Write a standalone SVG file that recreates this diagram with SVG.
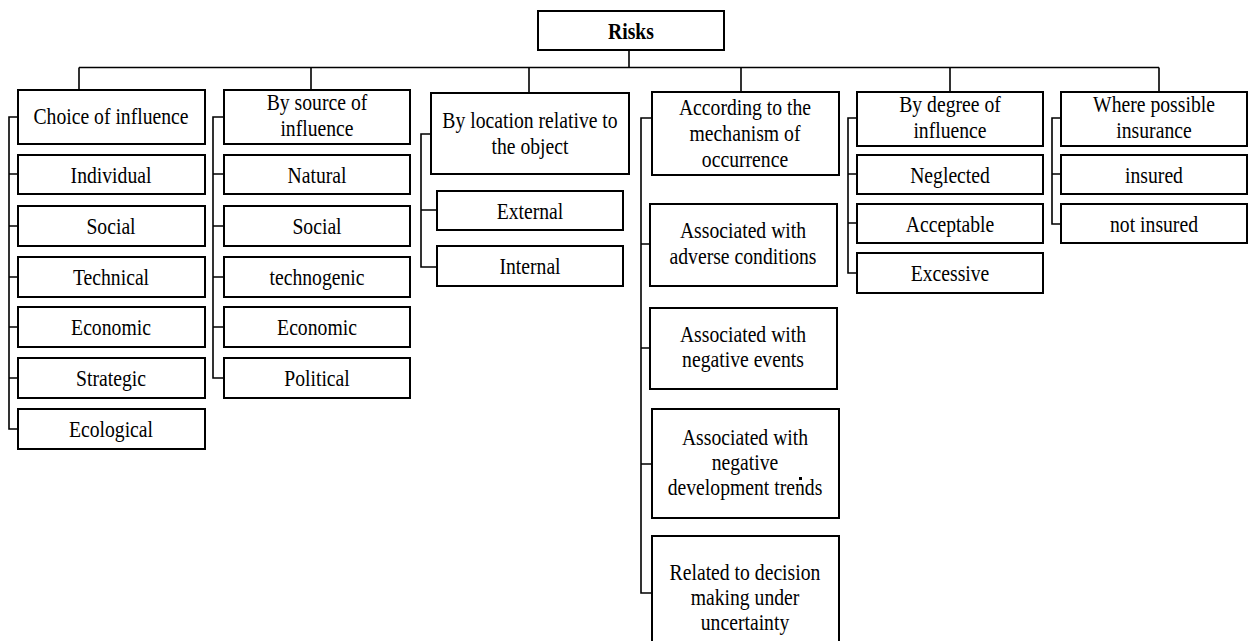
<svg xmlns="http://www.w3.org/2000/svg" width="1252" height="641" viewBox="0 0 1252 641">
<style>
  .box { fill: #fff; stroke: #000; stroke-width: 2; }
  .t { font-family: "Liberation Serif", "Times New Roman", serif; font-size: 24px; fill: #000; text-anchor: middle; }
  .b { font-weight: bold; }
  .con { fill: none; stroke: #000; stroke-width: 1.6; }
</style>
<rect width="1252" height="641" fill="#fff"/>

<g id="connectors" class="con">
  <path d="M629 50 V67.5 M79 67.5 H1159 M79 67.5 V90 M311 67.5 V90 M529 67.5 V93 M741 67.5 V92 M950 67.5 V92 M1159 67.5 V92"/>
  <path d="M18 117 H9 V429 H18 M9 174 H18 M9 226 H18 M9 277 H18 M9 327 H18 M9 378 H18"/>
  <path d="M224 117 H213 V378 H224 M213 174 H224 M213 226 H224 M213 277 H224 M213 327 H224"/>
  <path d="M431 134 H421 V267 H437 M421 210 H437"/>
  <path d="M652 118 H641 V593 H652 M641 244 H650 M641 348 H650 M641 464 H652"/>
  <path d="M857 118 H848 V273 H857 M848 174 H857 M848 223 H857"/>
  <path d="M1061 118 H1052 V224 H1061 M1052 174 H1061"/>
</g>

<g id="risks"><rect class="box" x="538" y="11" width="186" height="39"/><text class="t b" transform="translate(631,39) scale(0.82,1)">Risks</text></g>

<g id="choice"><rect class="box" x="18" y="90" width="187" height="54"/><text class="t" transform="translate(111,124) scale(0.82,1)">Choice of influence</text></g>
<g id="c1-individual"><rect class="box" x="18" y="155" width="187" height="39"/><text class="t" transform="translate(111,183) scale(0.82,1)">Individual</text></g>
<g id="c1-social"><rect class="box" x="18" y="206" width="187" height="40"/><text class="t" transform="translate(111,234) scale(0.82,1)">Social</text></g>
<g id="c1-technical"><rect class="box" x="18" y="257" width="187" height="40"/><text class="t" transform="translate(111,285) scale(0.82,1)">Technical</text></g>
<g id="c1-economic"><rect class="box" x="18" y="307" width="187" height="40"/><text class="t" transform="translate(111,335) scale(0.82,1)">Economic</text></g>
<g id="c1-strategic"><rect class="box" x="18" y="358" width="187" height="40"/><text class="t" transform="translate(111,386) scale(0.82,1)">Strategic</text></g>
<g id="c1-ecological"><rect class="box" x="18" y="409" width="187" height="40"/><text class="t" transform="translate(111,437) scale(0.82,1)">Ecological</text></g>

<g id="source"><rect class="box" x="224" y="90" width="186" height="54"/><text class="t" transform="translate(317,110) scale(0.82,1)"><tspan x="0">By source of</tspan><tspan x="0" dy="26">influence</tspan></text></g>
<g id="c2-natural"><rect class="box" x="224" y="155" width="186" height="39"/><text class="t" transform="translate(317,183) scale(0.82,1)">Natural</text></g>
<g id="c2-social"><rect class="box" x="224" y="206" width="186" height="40"/><text class="t" transform="translate(317,234) scale(0.82,1)">Social</text></g>
<g id="c2-technogenic"><rect class="box" x="224" y="257" width="186" height="40"/><text class="t" transform="translate(317,285) scale(0.82,1)">technogenic</text></g>
<g id="c2-economic"><rect class="box" x="224" y="307" width="186" height="40"/><text class="t" transform="translate(317,335) scale(0.82,1)">Economic</text></g>
<g id="c2-political"><rect class="box" x="224" y="358" width="186" height="40"/><text class="t" transform="translate(317,386) scale(0.82,1)">Political</text></g>

<g id="location"><rect class="box" x="431" y="93" width="198" height="81"/><text class="t" transform="translate(530,128) scale(0.82,1)"><tspan x="0">By location relative to</tspan><tspan x="0" dy="26">the object</tspan></text></g>
<g id="c3-external"><rect class="box" x="437" y="191" width="186" height="39"/><text class="t" transform="translate(530,219) scale(0.82,1)">External</text></g>
<g id="c3-internal"><rect class="box" x="437" y="246" width="186" height="40"/><text class="t" transform="translate(530,274) scale(0.82,1)">Internal</text></g>

<g id="mechanism"><rect class="box" x="652" y="92" width="187" height="83"/><text class="t" transform="translate(745,115) scale(0.82,1)"><tspan x="0">According to the</tspan><tspan x="0" dy="26">mechanism of</tspan><tspan x="0" dy="26">occurrence</tspan></text></g>
<g id="c4-adverse"><rect class="box" x="650" y="204" width="187" height="82"/><text class="t" transform="translate(743,238) scale(0.82,1)"><tspan x="0">Associated with</tspan><tspan x="0" dy="26">adverse conditions</tspan></text></g>
<g id="c4-events"><rect class="box" x="650" y="308" width="187" height="81"/><text class="t" transform="translate(743,342) scale(0.82,1)"><tspan x="0">Associated with</tspan><tspan x="0" dy="25">negative events</tspan></text></g>
<g id="c4-trends"><rect class="box" x="652" y="409" width="187" height="109"/><text class="t" transform="translate(745,445) scale(0.82,1)"><tspan x="0">Associated with</tspan><tspan x="0" dy="25">negative</tspan><tspan x="0" dy="25">development trends</tspan></text><rect x="799" y="477" width="3" height="3" fill="#000"/></g>
<g id="c4-decision"><rect class="box" x="652" y="536" width="187" height="130"/><text class="t" transform="translate(745,580) scale(0.82,1)"><tspan x="0">Related to decision</tspan><tspan x="0" dy="25">making under</tspan><tspan x="0" dy="25">uncertainty</tspan></text></g>

<g id="degree"><rect class="box" x="857" y="92" width="186" height="54"/><text class="t" transform="translate(950,112) scale(0.82,1)"><tspan x="0">By degree of</tspan><tspan x="0" dy="26">influence</tspan></text></g>
<g id="c5-neglected"><rect class="box" x="857" y="155" width="186" height="39"/><text class="t" transform="translate(950,183) scale(0.82,1)">Neglected</text></g>
<g id="c5-acceptable"><rect class="box" x="857" y="204" width="186" height="39"/><text class="t" transform="translate(950,232) scale(0.82,1)">Acceptable</text></g>
<g id="c5-excessive"><rect class="box" x="857" y="253" width="186" height="40"/><text class="t" transform="translate(950,281) scale(0.82,1)">Excessive</text></g>

<g id="insurance"><rect class="box" x="1061" y="92" width="186" height="54"/><text class="t" transform="translate(1154,112) scale(0.82,1)"><tspan x="0">Where possible</tspan><tspan x="0" dy="26">insurance</tspan></text></g>
<g id="c6-insured"><rect class="box" x="1061" y="155" width="186" height="39"/><text class="t" transform="translate(1154,183) scale(0.82,1)">insured</text></g>
<g id="c6-notinsured"><rect class="box" x="1061" y="204" width="186" height="39"/><text class="t" transform="translate(1154,232) scale(0.82,1)">not insured</text></g>
</svg>
